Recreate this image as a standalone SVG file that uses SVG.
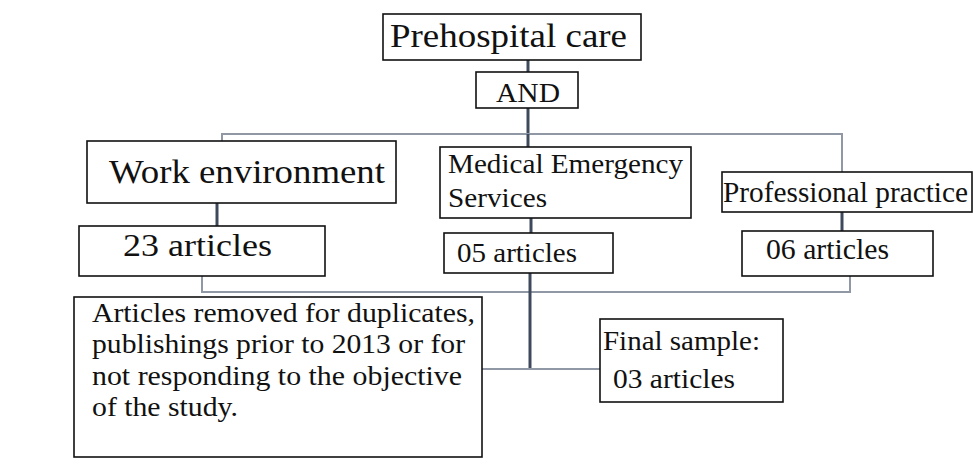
<svg xmlns="http://www.w3.org/2000/svg" width="973" height="469" viewBox="0 0 973 469">
<style>
.box{fill:#fff;stroke:#111;stroke-width:1.6}
.t{fill:#111}
.dk{stroke:#3e4a5c;stroke-width:3;fill:none}
.lt{stroke:#8f98a4;stroke-width:2;fill:none}
</style>
<rect width="973" height="469" fill="#fff"/>
<g id="connectors">
<line class="dk" x1="528" y1="60" x2="528" y2="72"/>
<line class="dk" x1="528" y1="108" x2="528" y2="134"/>
<polyline class="lt" points="222,141 222,134 842,134 842,172"/>
<line class="dk" x1="528" y1="134" x2="528" y2="147"/>
<line class="dk" x1="217" y1="203" x2="217" y2="226"/>
<line class="dk" x1="531" y1="218" x2="531" y2="233"/>
<line class="dk" x1="842" y1="212" x2="842" y2="231"/>
<polyline class="lt" points="202,276 202,292 850,292 850,276"/>
<line class="dk" x1="530" y1="273" x2="530" y2="369"/>
<line class="lt" x1="482" y1="369" x2="600" y2="369"/>
</g>
<g font-family="Liberation Serif, Times New Roman, serif">
<g id="n-prehospital">
<rect class="box" x="383" y="14" width="258" height="46"/>
<text class="t" x="390" y="47" font-size="34" textLength="237" lengthAdjust="spacingAndGlyphs">Prehospital care</text>
</g>
<g id="n-and">
<rect class="box" x="476" y="72" width="102" height="36"/>
<text class="t" x="496" y="102" font-size="28" textLength="64" lengthAdjust="spacingAndGlyphs">AND</text>
</g>
<g id="n-work">
<rect class="box" x="87" y="141" width="309" height="62"/>
<text class="t" x="109" y="183" font-size="33" textLength="276" lengthAdjust="spacingAndGlyphs">Work environment</text>
</g>
<g id="n-medical">
<rect class="box" x="440" y="147" width="251" height="71"/>
<text class="t" x="448" y="173" font-size="27" textLength="235" lengthAdjust="spacingAndGlyphs">Medical Emergency</text>
<text class="t" x="448" y="207" font-size="27" textLength="99" lengthAdjust="spacingAndGlyphs">Services</text>
</g>
<g id="n-professional">
<rect class="box" x="722" y="172" width="250" height="40"/>
<text class="t" x="723" y="202" font-size="29" textLength="245" lengthAdjust="spacingAndGlyphs">Professional practice</text>
</g>
<g id="n-23">
<rect class="box" x="79" y="226" width="246" height="50"/>
<text class="t" x="123" y="256" font-size="32" textLength="149" lengthAdjust="spacingAndGlyphs">23 articles</text>
</g>
<g id="n-05">
<rect class="box" x="444" y="233" width="169" height="40"/>
<text class="t" x="457" y="262" font-size="28" textLength="120" lengthAdjust="spacingAndGlyphs">05 articles</text>
</g>
<g id="n-06">
<rect class="box" x="742" y="231" width="191" height="45"/>
<text class="t" x="766" y="259" font-size="29" textLength="123" lengthAdjust="spacingAndGlyphs">06 articles</text>
</g>
<g id="n-removed">
<rect class="box" x="74" y="297" width="408" height="160"/>
<text class="t" x="92" y="322" font-size="28" textLength="383" lengthAdjust="spacingAndGlyphs">Articles removed for duplicates,</text>
<text class="t" x="92" y="353" font-size="28" textLength="373" lengthAdjust="spacingAndGlyphs">publishings prior to 2013 or for</text>
<text class="t" x="92" y="385" font-size="28" textLength="370" lengthAdjust="spacingAndGlyphs">not responding to the objective</text>
<text class="t" x="92" y="416" font-size="28" textLength="146" lengthAdjust="spacingAndGlyphs">of the study.</text>
</g>
<g id="n-final">
<rect class="box" x="600" y="319" width="183" height="83"/>
<text class="t" x="603" y="350" font-size="28" textLength="157" lengthAdjust="spacingAndGlyphs">Final sample:</text>
<text class="t" x="613" y="388" font-size="28" textLength="122" lengthAdjust="spacingAndGlyphs">03 articles</text>
</g>
</g>
</svg>
